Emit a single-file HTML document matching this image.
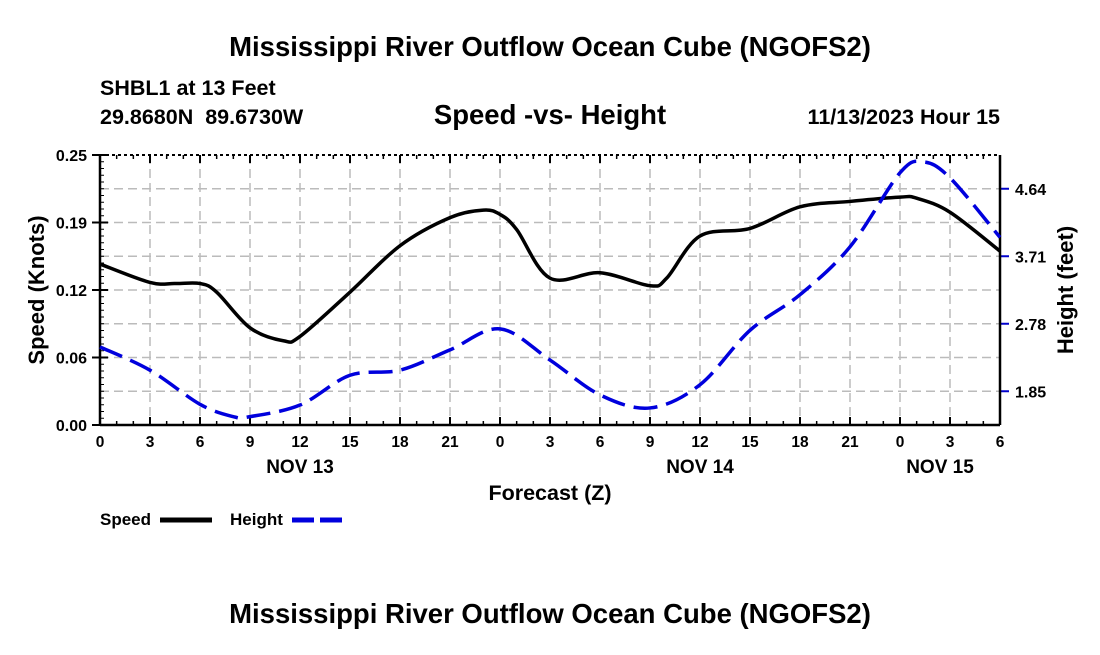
<!DOCTYPE html>
<html><head><meta charset="utf-8">
<style>
body{margin:0;background:#fff;}
svg text{font-family:"Liberation Sans",Arial,sans-serif;font-weight:bold;fill:#000;}
</style></head>
<body>
<svg id="chart" width="1100" height="650" xmlns="http://www.w3.org/2000/svg">
<rect width="1100" height="650" fill="#fff"/>
<text x="550" y="56" font-size="27.5" text-anchor="middle">Mississippi River Outflow Ocean Cube (NGOFS2)</text>
<text x="100" y="95" font-size="21.5">SHBL1 at 13 Feet</text>
<text x="100" y="124" font-size="21.5" xml:space="preserve">29.8680N  89.6730W</text>
<text x="550" y="124" font-size="27.5" text-anchor="middle">Speed -vs- Height</text>
<text x="1000" y="124" font-size="21.5" text-anchor="end">11/13/2023 Hour 15</text>
<g id="grid"></g>
<g id="axes"></g>
<g id="series"></g>
<text transform="translate(44,290) rotate(-90)" font-size="22" text-anchor="middle">Speed (Knots)</text>
<text transform="translate(1073,290) rotate(-90)" font-size="22" text-anchor="middle">Height (feet)</text>
<text x="550" y="500" font-size="21.5" text-anchor="middle">Forecast (Z)</text>
<g>
<text x="100" y="525" font-size="17">Speed</text>
<line x1="160" y1="520" x2="212" y2="520" stroke="#000" stroke-width="5"/>
</g>
<g>
<text x="230" y="525" font-size="17">Height</text>
<line x1="292" y1="520" x2="342" y2="520" stroke="#0000dd" stroke-width="5" stroke-dasharray="22,6"/>
</g>
<text x="550" y="623" font-size="27.5" text-anchor="middle">Mississippi River Outflow Ocean Cube (NGOFS2)</text>
</svg>
<script>
const speedHours=[0,3,4.5,6,7,9,11,12,15,18,21,23,24,25,27,30,33,34,36,39,42,45,48,49,51,54];
const speedValues=[0.149,0.132,0.131,0.131,0.123,0.090,0.078,0.082,0.123,0.166,0.192,0.199,0.195,0.181,0.136,0.141,0.129,0.136,0.175,0.182,0.202,0.207,0.211,0.210,0.197,0.161];
const heightHours=[0,3,6,8,9,12,15,18,21,24,27,30,33,36,39,42,45,48,49.4,51,54];
const heightValues=[2.46,2.14,1.67,1.50,1.50,1.66,2.07,2.14,2.42,2.71,2.28,1.80,1.62,1.94,2.69,3.18,3.84,4.86,5.01,4.79,3.97];
const xTickHours=[0,3,6,9,12,15,18,21,24,27,30,33,36,39,42,45,48,51,54];
const xTickLabels=["0","3","6","9","12","15","18","21","0","3","6","9","12","15","18","21","0","3","6"];
const dayLabels=["NOV 13","NOV 14","NOV 15"];
const dayHours=[12,36,50.4];
const leftTicks=[0,0.0625,0.125,0.1875,0.25];
const leftTickLabels=["0.00","0.06","0.12","0.19","0.25"];
const rightTicks=[1.85,2.78,3.71,4.64];
const rightTickLabels=["1.85","2.78","3.71","4.64"];

const L=100,R=1000,T=155,B=425;
const xS=h=>L+(h/54)*(R-L);
const yS=v=>B-(v/0.25)*(B-T);
const yH=v=>B-((v-1.385)/0.93)*67.5;
const NS="http://www.w3.org/2000/svg";
function mk(tag,attrs,parent){const e=document.createElementNS(NS,tag);for(const k in attrs)e.setAttribute(k,attrs[k]);parent.appendChild(e);return e;}
const grid=document.getElementById('grid'),axes=document.getElementById('axes'),series=document.getElementById('series');
for(let i=1;i<8;i++){const y=T+i*(B-T)/8;const g=mk('line',{x1:L,x2:R,y1:y,y2:y,stroke:'#bbb','stroke-width':1.5,'stroke-dasharray':'9,5'},grid);

}
xTickHours.forEach((h,i)=>{const x=xS(h);
if(i>0&&i<xTickHours.length-1){const g=mk('line',{x1:x,x2:x,y1:T,y2:B,stroke:'#bbb','stroke-width':1.5,'stroke-dasharray':'9,5'},grid);

}
mk('line',{x1:x,x2:x,y1:B,y2:B-8,stroke:'#000','stroke-width':2},axes);
mk('line',{x1:x,x2:x,y1:T,y2:T+8,stroke:'#000','stroke-width':2},axes);
const t=mk('text',{x:x,y:B+22,'font-size':15.5,'text-anchor':'middle'},axes);t.textContent=xTickLabels[i];

});
dayLabels.forEach((d,i)=>{const t=mk('text',{x:xS(dayHours[i]),y:B+48,'font-size':19,'text-anchor':'middle'},axes);t.textContent=d;

});
for(let h=0;h<=54;h++){mk('line',{x1:xS(h),x2:xS(h),y1:B,y2:B-4,stroke:'#000','stroke-width':1.5},axes);mk('line',{x1:xS(h),x2:xS(h),y1:T,y2:T+4,stroke:'#000','stroke-width':1.5},axes);}
for(let i=0;i<=40;i++){const y=T+i*(B-T)/40;mk('line',{x1:L,x2:L+4,y1:y,y2:y,stroke:'#000','stroke-width':1},axes);}
leftTicks.forEach((v,i)=>{const y=yS(v);mk('line',{x1:L-8,x2:L+8,y1:y,y2:y,stroke:'#000','stroke-width':2},axes);
const t=mk('text',{x:L-13,y:y+6,'font-size':16,'text-anchor':'end'},axes);t.textContent=leftTickLabels[i];

});
rightTicks.forEach((v,i)=>{const y=yH(v);mk('line',{x1:R,x2:R+9,y1:y,y2:y,stroke:'#0000cc','stroke-width':2},axes);
const t=mk('text',{x:R+15,y:y+6,'font-size':16},axes);t.textContent=rightTickLabels[i];

});
mk('line',{x1:L,x2:L,y1:T,y2:B,stroke:'#000','stroke-width':2.5},axes);
mk('line',{x1:R,x2:R,y1:T,y2:B,stroke:'#000','stroke-width':2.5},axes);
mk('line',{x1:L,x2:R,y1:B,y2:B,stroke:'#000','stroke-width':2.5},axes);
mk('line',{x1:L,x2:R,y1:T,y2:T,stroke:'#000','stroke-width':2,'stroke-dasharray':'3,3'},axes);
function smooth(pts){let d=`M${pts[0][0]},${pts[0][1]}`;for(let i=0;i<pts.length-1;i++){const p0=pts[i-1]||pts[i],p1=pts[i],p2=pts[i+1],p3=pts[i+2]||p2;
d+=` C${p1[0]+(p2[0]-p0[0])/6},${p1[1]+(p2[1]-p0[1])/6} ${p2[0]-(p3[0]-p1[0])/6},${p2[1]-(p3[1]-p1[1])/6} ${p2[0]},${p2[1]}`;}return d;}
const sp=mk('path',{d:smooth(speedHours.map((h,i)=>[xS(h),yS(speedValues[i])])),fill:'none',stroke:'#000','stroke-width':3.5},series);


const hp=mk('path',{d:smooth(heightHours.map((h,i)=>[xS(h),yH(heightValues[i])])),fill:'none',stroke:'#0000dd','stroke-width':3.5,'stroke-dasharray':'24,9'},series);


</script>
</body></html>
